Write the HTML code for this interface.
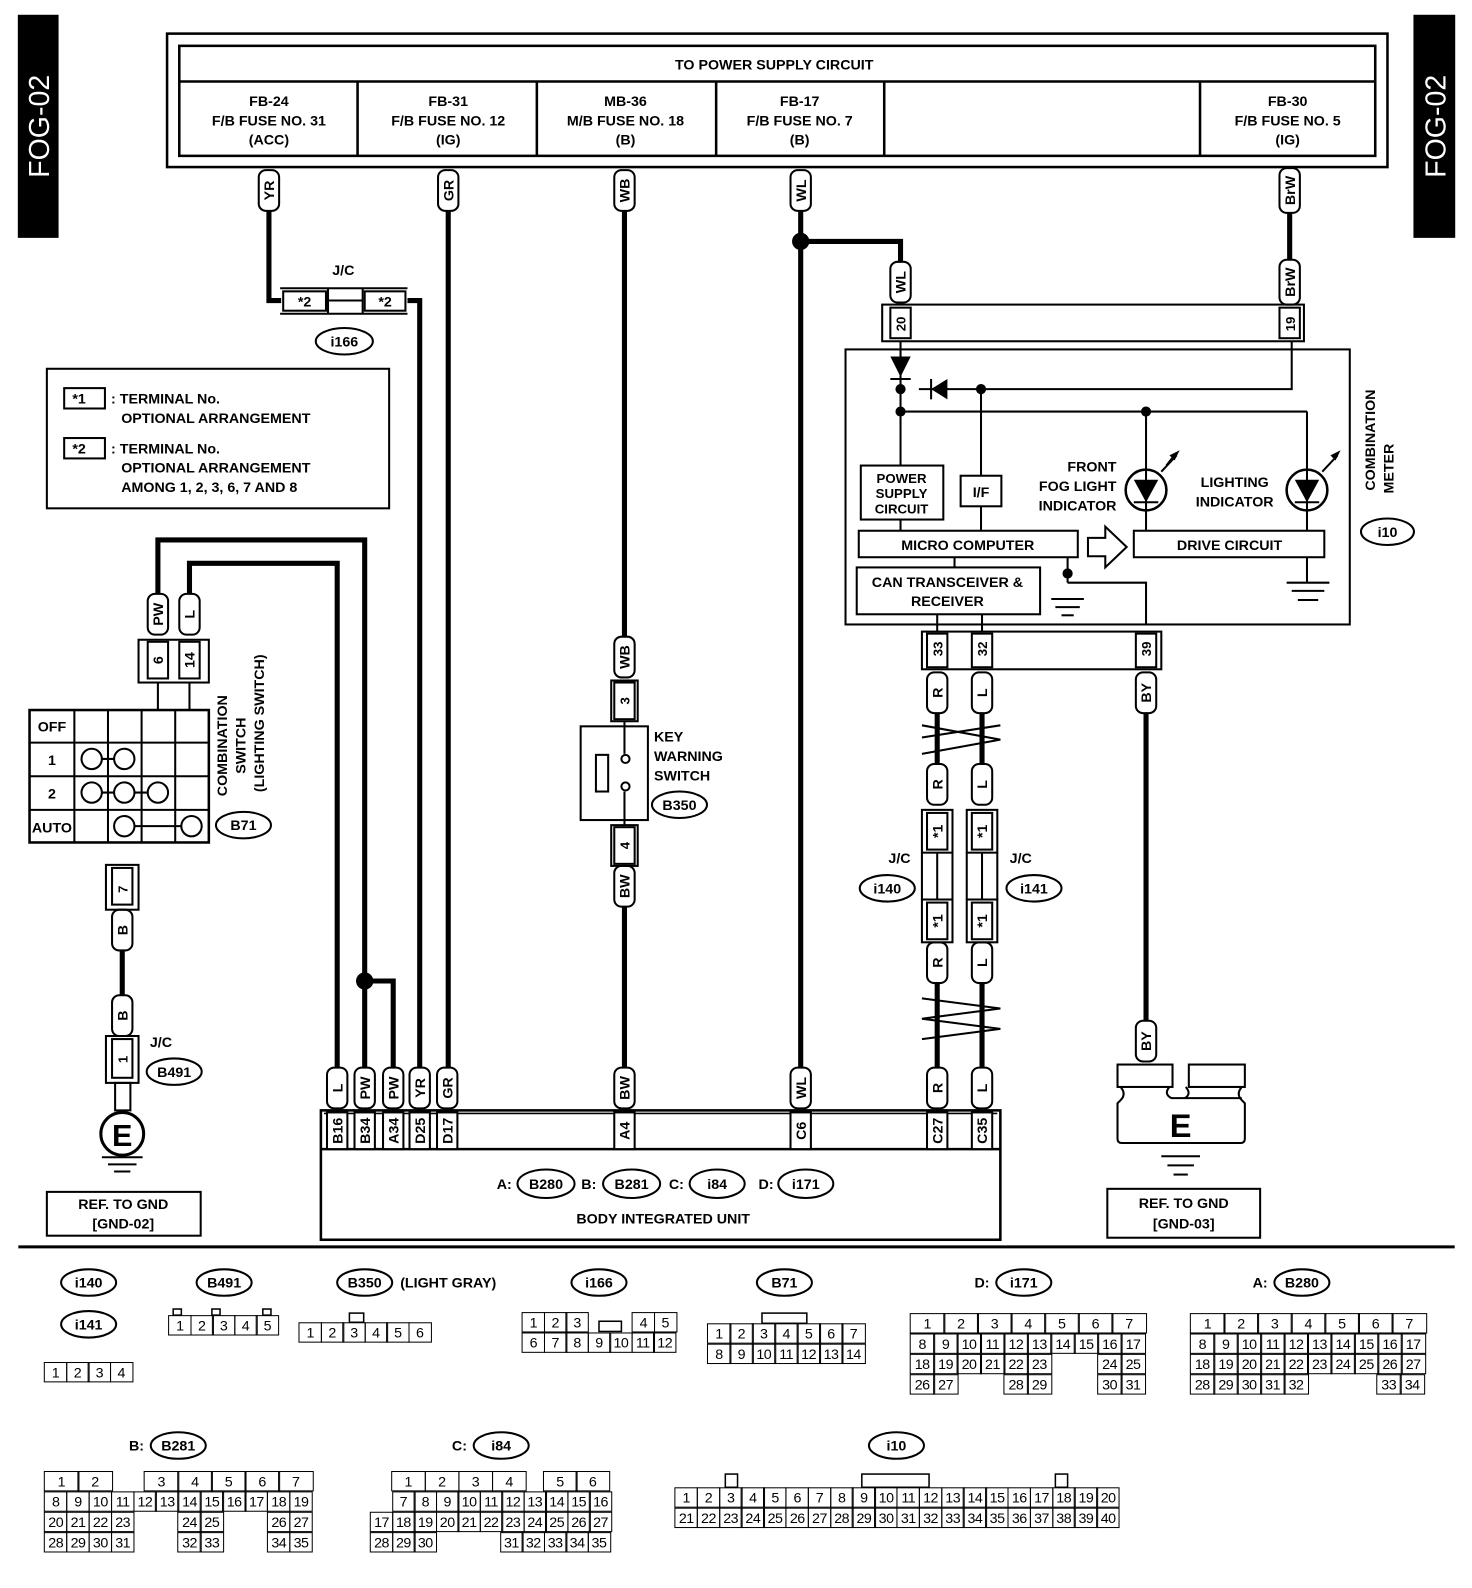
<!DOCTYPE html>
<html><head><meta charset="utf-8">
<style>
html,body{margin:0;padding:0;background:#fff;}
#wrap{position:relative;width:1445px;height:1559px;transform:scale(1.0187);transform-origin:0 0;overflow:hidden;font-family:"Liberation Sans",sans-serif;}
svg{position:absolute;left:0;top:0}
svg text{font-family:"Liberation Sans",sans-serif;font-weight:bold;font-size:14px;fill:#000}
.r{position:absolute;display:flex;height:20px}
.r b,.r i{display:block;height:20px;box-sizing:border-box;font-weight:normal;font-style:normal;font-size:14px;line-height:19px;text-align:center;letter-spacing:-0.5px}
.r b{border:1.5px solid #000;margin-right:-1.5px}
.r i{margin-right:-1.5px}
</style></head><body><div id="wrap">
<svg width="1445" height="1559" viewBox="0 0 1445 1559" fill="none" stroke="#000">
<!-- side tabs -->
<rect x="18" y="15" width="39" height="218" fill="#000"/>
<text transform="translate(48,124) rotate(-90)" text-anchor="middle" style="fill:#fff;font-size:28px;font-weight:normal" stroke="none">FOG-02</text>
<rect x="1388" y="15" width="40" height="218" fill="#000"/>
<text transform="translate(1419,124) rotate(-90)" text-anchor="middle" style="fill:#fff;font-size:28px;font-weight:normal" stroke="none">FOG-02</text>

<!-- top box -->
<g stroke-width="2.5">
<rect x="164" y="33" width="1198" height="131"/>
<rect x="176" y="45" width="1174" height="108"/>
<line x1="176" y1="80" x2="1350" y2="80"/>
<line x1="351" y1="80" x2="351" y2="153"/><line x1="527" y1="80" x2="527" y2="153"/>
<line x1="703" y1="80" x2="703" y2="153"/><line x1="868" y1="80" x2="868" y2="153"/>
<line x1="1178" y1="80" x2="1178" y2="153"/>
</g>
<g stroke="none" text-anchor="middle">
<text x="760" y="68">TO POWER SUPPLY CIRCUIT</text>
<text x="264" y="104">FB-24</text><text x="264" y="123">F/B FUSE NO. 31</text><text x="264" y="142">(ACC)</text>
<text x="440" y="104">FB-31</text><text x="440" y="123">F/B FUSE NO. 12</text><text x="440" y="142">(IG)</text>
<text x="614" y="104">MB-36</text><text x="614" y="123">M/B FUSE NO. 18</text><text x="614" y="142">(B)</text>
<text x="785" y="104">FB-17</text><text x="785" y="123">F/B FUSE NO. 7</text><text x="785" y="142">(B)</text>
<text x="1264" y="104">FB-30</text><text x="1264" y="123">F/B FUSE NO. 5</text><text x="1264" y="142">(IG)</text>
</g>

<!-- thick wires -->
<g stroke-width="5" stroke-linejoin="miter">
<polyline points="264,207 264,295 276,295"/>
<polyline points="400,295 412,295 412,1048"/>
<line x1="440" y1="207" x2="440" y2="1048"/>
<line x1="613" y1="207" x2="613" y2="625"/>
<line x1="613" y1="890" x2="613" y2="1048"/>
<line x1="786" y1="207" x2="786" y2="1048"/>
<polyline points="786,237 884,237 884,257"/>
<line x1="1266" y1="209" x2="1266" y2="257"/>
<polyline points="331,1048 331,553 186,553 186,583"/>
<polyline points="358,1048 358,530 155,530 155,583"/>
<polyline points="358,963 386,963 386,1048"/>
<line x1="120" y1="893" x2="120" y2="977"/>
<line x1="920" y1="700" x2="920" y2="750"/><line x1="964" y1="700" x2="964" y2="750"/>
<line x1="920" y1="965" x2="920" y2="1048"/><line x1="964" y1="965" x2="964" y2="1048"/>
<line x1="1125" y1="700" x2="1125" y2="1002"/>
</g>
<circle cx="786" cy="237" r="8" fill="#000"/>
<circle cx="358" cy="963" r="8" fill="#000"/>

<!-- pill labels -->
<g stroke-width="2" fill="#fff">
<rect x="254" y="167" width="20" height="40" rx="7"/><rect x="430" y="167" width="20" height="40" rx="7"/>
<rect x="603" y="167" width="20" height="40" rx="7"/><rect x="776" y="167" width="20" height="40" rx="7"/>
<rect x="1256" y="165" width="20" height="44" rx="7"/>
<rect x="874" y="257" width="20" height="40" rx="7"/><rect x="1256" y="255" width="20" height="44" rx="7"/>
<rect x="145" y="583" width="20" height="40" rx="7"/><rect x="176" y="583" width="20" height="40" rx="7"/>
<rect x="603" y="625" width="20" height="40" rx="7"/><rect x="603" y="850" width="20" height="40" rx="7"/>
<rect x="110" y="893" width="20" height="40" rx="7"/><rect x="110" y="977" width="20" height="40" rx="7"/>
<rect x="910" y="660" width="20" height="40" rx="7"/><rect x="954" y="660" width="20" height="40" rx="7"/>
<rect x="1115" y="660" width="20" height="40" rx="7"/>
<rect x="910" y="750" width="20" height="40" rx="7"/><rect x="954" y="750" width="20" height="40" rx="7"/>
<rect x="910" y="925" width="20" height="40" rx="7"/><rect x="954" y="925" width="20" height="40" rx="7"/>
<rect x="1115" y="1002" width="20" height="40" rx="7"/>
<rect x="321" y="1048" width="20" height="40" rx="7"/><rect x="348" y="1048" width="20" height="40" rx="7"/>
<rect x="376" y="1048" width="20" height="40" rx="7"/><rect x="402" y="1048" width="20" height="40" rx="7"/>
<rect x="429" y="1048" width="20" height="40" rx="7"/><rect x="603" y="1048" width="20" height="40" rx="7"/>
<rect x="776" y="1048" width="20" height="40" rx="7"/><rect x="910" y="1048" width="20" height="40" rx="7"/>
<rect x="954" y="1048" width="20" height="40" rx="7"/>
</g>
<g stroke="none" text-anchor="middle" style="font-size:13px">
<text transform="translate(269,187) rotate(-90)">YR</text><text transform="translate(445,187) rotate(-90)">GR</text>
<text transform="translate(618,187) rotate(-90)">WB</text><text transform="translate(791,187) rotate(-90)">WL</text>
<text transform="translate(1271,187) rotate(-90)">BrW</text>
<text transform="translate(889,277) rotate(-90)">WL</text><text transform="translate(1271,277) rotate(-90)">BrW</text>
<text transform="translate(160,603) rotate(-90)">PW</text><text transform="translate(191,603) rotate(-90)">L</text>
<text transform="translate(618,645) rotate(-90)">WB</text><text transform="translate(618,870) rotate(-90)">BW</text>
<text transform="translate(125,913) rotate(-90)">B</text><text transform="translate(125,997) rotate(-90)">B</text>
<text transform="translate(925,680) rotate(-90)">R</text><text transform="translate(969,680) rotate(-90)">L</text>
<text transform="translate(1130,680) rotate(-90)">BY</text>
<text transform="translate(925,770) rotate(-90)">R</text><text transform="translate(969,770) rotate(-90)">L</text>
<text transform="translate(925,945) rotate(-90)">R</text><text transform="translate(969,945) rotate(-90)">L</text>
<text transform="translate(1130,1022) rotate(-90)">BY</text>
<text transform="translate(336,1068) rotate(-90)">L</text><text transform="translate(363,1068) rotate(-90)">PW</text>
<text transform="translate(391,1068) rotate(-90)">PW</text><text transform="translate(417,1068) rotate(-90)">YR</text>
<text transform="translate(444,1068) rotate(-90)">GR</text><text transform="translate(618,1068) rotate(-90)">BW</text>
<text transform="translate(791,1068) rotate(-90)">WL</text><text transform="translate(925,1068) rotate(-90)">R</text>
<text transform="translate(969,1068) rotate(-90)">L</text>
</g>

<!-- J/C i166 -->
<g stroke-width="2">
<line x1="275" y1="283" x2="400" y2="283"/><line x1="275" y1="308" x2="400" y2="308"/>
<rect x="278" y="286" width="42" height="19"/><rect x="358" y="286" width="40" height="19"/>
<line x1="322" y1="295" x2="356" y2="295"/>
<line x1="322" y1="283" x2="322" y2="308"/><line x1="356" y1="283" x2="356" y2="308"/>
<ellipse cx="338" cy="335" rx="28" ry="13"/>
</g>
<g stroke="none" text-anchor="middle"><text x="299" y="301">*2</text><text x="378" y="301">*2</text>
<text x="337" y="270">J/C</text><text x="338" y="340">i166</text></g>

<!-- legend -->
<rect x="46" y="362" width="336" height="137" stroke-width="2"/>
<rect x="63" y="381" width="40" height="20" stroke-width="2"/><rect x="63" y="430" width="40" height="20" stroke-width="2"/>
<g stroke="none"><text x="71" y="396">*1</text><text x="71" y="445">*2</text>
<text x="109" y="396">: TERMINAL No.</text><text x="119" y="415">OPTIONAL ARRANGEMENT</text>
<text x="109" y="445">: TERMINAL No.</text><text x="119" y="464">OPTIONAL ARRANGEMENT</text>
<text x="119" y="483">AMONG 1, 2, 3, 6, 7 AND 8</text></g>

<!-- combination switch -->
<g stroke-width="2">
<rect x="136" y="628" width="69" height="42"/><rect x="145" y="630" width="20" height="36"/><rect x="176" y="630" width="20" height="36"/>
<line x1="155" y1="670" x2="155" y2="697"/><line x1="186" y1="670" x2="186" y2="697"/>
<rect x="29" y="697" width="176" height="130" stroke-width="2.5"/>
<line x1="73" y1="697" x2="73" y2="827"/><line x1="106" y1="697" x2="106" y2="827"/><line x1="139" y1="697" x2="139" y2="827"/><line x1="172" y1="697" x2="172" y2="827"/>
<line x1="29" y1="729" x2="205" y2="729"/><line x1="29" y1="762" x2="205" y2="762"/><line x1="29" y1="795" x2="205" y2="795"/>
<line x1="90" y1="745" x2="122" y2="745"/><line x1="90" y1="778" x2="155" y2="778"/><line x1="122" y1="811" x2="188" y2="811"/>
</g>
<g stroke-width="2" fill="#fff">
<circle cx="90" cy="745" r="10"/><circle cx="122" cy="745" r="10"/>
<circle cx="90" cy="778" r="10"/><circle cx="122" cy="778" r="10"/><circle cx="155" cy="778" r="10"/>
<circle cx="122" cy="811" r="10"/><circle cx="188" cy="811" r="10"/>
<ellipse cx="239" cy="810" rx="27" ry="13"/>
</g>
<g stroke="none" text-anchor="middle" style="font-size:13px">
<text transform="translate(160,648) rotate(-90)">6</text><text transform="translate(191,648) rotate(-90)">14</text>
<text x="51" y="718">OFF</text><text x="51" y="751">1</text><text x="51" y="784">2</text><text x="51" y="817">AUTO</text>
<text x="239" y="815">B71</text></g>
<g stroke="none" text-anchor="middle">
<text transform="translate(223,732) rotate(-90)">COMBINATION</text>
<text transform="translate(241,732) rotate(-90)">SWITCH</text>
<text transform="translate(259,710) rotate(-90)">(LIGHTING SWITCH)</text></g>

<!-- left ground -->
<g stroke-width="2">
<rect x="104" y="849" width="32" height="44"/><rect x="110" y="852" width="20" height="36"/>
<rect x="104" y="1017" width="32" height="46"/><rect x="110" y="1020" width="20" height="38"/>
<rect x="113" y="1063" width="15" height="27"/>
<circle cx="120" cy="1113" r="21" stroke-width="3"/>
<line x1="100" y1="1136" x2="140" y2="1136"/><line x1="106" y1="1143" x2="134" y2="1143"/><line x1="112" y1="1150" x2="128" y2="1150"/>
<rect x="46" y="1170" width="151" height="43"/>
<ellipse cx="171" cy="1052" rx="27" ry="13"/>
</g>
<g stroke="none" text-anchor="middle">
<text transform="translate(125,873) rotate(-90)" style="font-size:13px">7</text>
<text transform="translate(125,1040) rotate(-90)" style="font-size:13px">1</text>
<text x="120" y="1125" style="font-size:30px">E</text>
<text x="158" y="1028">J/C</text><text x="171" y="1057">B491</text>
<text x="121" y="1187">REF. TO GND</text><text x="121" y="1206">[GND-02]</text></g>

<!-- key warning switch -->
<g stroke-width="2">
<rect x="600" y="668" width="26" height="40"/><rect x="603" y="670" width="20" height="36"/>
<rect x="600" y="810" width="26" height="40"/><rect x="603" y="812" width="20" height="36"/>
<rect x="570" y="713" width="66" height="92"/>
<line x1="613" y1="708" x2="613" y2="740"/><line x1="613" y1="777" x2="613" y2="810"/>
<rect x="585" y="741" width="12" height="36"/>
<circle cx="614" cy="745" r="4" fill="#fff"/><circle cx="614" cy="772" r="4" fill="#fff"/>
<ellipse cx="667" cy="790" rx="27" ry="13"/>
</g>
<g stroke="none"><text transform="translate(618,688) rotate(-90)" text-anchor="middle" style="font-size:13px">3</text>
<text transform="translate(618,830) rotate(-90)" text-anchor="middle" style="font-size:13px">4</text>
<text x="642" y="728">KEY</text><text x="642" y="747">WARNING</text><text x="642" y="766">SWITCH</text>
<text x="667" y="795" text-anchor="middle">B350</text></g>

<!-- combination meter -->
<g stroke-width="2">
<rect x="866" y="299" width="414" height="36"/><rect x="874" y="302" width="20" height="30"/><rect x="1256" y="302" width="20" height="30"/>
<rect x="830" y="343" width="495" height="270"/>
<line x1="884" y1="335" x2="884" y2="457"/>
<polyline points="1268,335 1268,382 902,382"/>
<line x1="884" y1="404" x2="1283" y2="404"/>
<line x1="1283" y1="404" x2="1283" y2="521"/>
<line x1="1125" y1="404" x2="1125" y2="521"/>
<line x1="963" y1="382" x2="963" y2="467"/><line x1="963" y1="497" x2="963" y2="521"/>
<line x1="884" y1="510" x2="884" y2="521"/>
<line x1="937" y1="547" x2="937" y2="557"/>
<polyline points="1048,547 1048,572"/>
<polyline points="1048,572 1125,572 1125,613"/>
<line x1="1032" y1="588" x2="1064" y2="588"/><line x1="1036" y1="596" x2="1060" y2="596"/><line x1="1042" y1="604" x2="1054" y2="604"/>
<line x1="1283" y1="547" x2="1283" y2="572"/>
<line x1="1263" y1="572" x2="1305" y2="572"/><line x1="1268" y1="580" x2="1300" y2="580"/><line x1="1274" y1="589" x2="1294" y2="589"/>
<line x1="920" y1="603" x2="920" y2="620"/><line x1="964" y1="603" x2="964" y2="620"/>
<rect x="845" y="457" width="81" height="53"/><rect x="943" y="467" width="40" height="30"/>
<rect x="843" y="521" width="215" height="26"/><rect x="841" y="557" width="180" height="46"/>
<rect x="1113" y="521" width="187" height="26"/>
<polygon points="1068,528 1085,528 1085,517 1106,537 1085,557 1085,546 1068,546" fill="#fff"/>
<circle cx="1125" cy="481" r="20" stroke-width="2.5"/><circle cx="1283" cy="481" r="20" stroke-width="2.5"/>
<line x1="1113" y1="493" x2="1137" y2="493"/><line x1="1271" y1="493" x2="1295" y2="493"/>
<line x1="874" y1="372" x2="894" y2="372"/><line x1="914" y1="372" x2="914" y2="392"/>
<polyline points="1140,463 1155,447"/><polyline points="1298,463 1313,447"/>
<line x1="1145" y1="457" x2="1152" y2="448"/>
<rect x="905" y="620" width="235" height="37"/>
<rect x="910" y="622" width="20" height="33"/><rect x="954" y="622" width="20" height="33"/><rect x="1115" y="622" width="20" height="33"/>
<ellipse cx="1362" cy="522" rx="26" ry="13"/>
</g>
<g fill="#000" stroke="none">
<polygon points="874,350 894,350 884,370"/>
<polygon points="914,382 930,372 930,392"/>
<polygon points="1113,471 1137,471 1125,493"/><polygon points="1271,471 1295,471 1283,493"/>
<polygon points="1158,442 1148,447 1153,452"/><polygon points="1316,442 1306,447 1311,452"/>
<circle cx="884" cy="382" r="5"/><circle cx="884" cy="404" r="5"/><circle cx="963" cy="382" r="5"/>
<circle cx="1125" cy="404" r="5"/><circle cx="1048" cy="563" r="5"/>
</g>
<g stroke="none" text-anchor="middle">
<text transform="translate(889,318) rotate(-90)" style="font-size:13px">20</text>
<text transform="translate(1271,318) rotate(-90)" style="font-size:13px">19</text>
<text x="885" y="474" style="font-size:13px">POWER</text><text x="885" y="489" style="font-size:13px">SUPPLY</text><text x="885" y="504" style="font-size:13px">CIRCUIT</text>
<text x="963" y="488">I/F</text>
<text x="950" y="540">MICRO COMPUTER</text>
<text x="930" y="576">CAN TRANSCEIVER &amp;</text><text x="930" y="595">RECEIVER</text>
<text x="1207" y="540">DRIVE CIRCUIT</text>
<text x="1212" y="478">LIGHTING</text><text x="1212" y="497">INDICATOR</text>
<text transform="translate(920,637) rotate(-90)" x="0" y="5" style="font-size:13px">33</text>
<text transform="translate(964,637) rotate(-90)" x="0" y="5" style="font-size:13px">32</text>
<text transform="translate(1125,637) rotate(-90)" x="0" y="5" style="font-size:13px">39</text>
<text transform="translate(1350,432) rotate(-90)">COMBINATION</text>
<text transform="translate(1368,460) rotate(-90)">METER</text>
<text x="1362" y="527">i10</text>
</g>
<g stroke="none" text-anchor="end"><text x="1096" y="463">FRONT</text><text x="1096" y="482">FOG LIGHT</text><text x="1096" y="501">INDICATOR</text></g>

<!-- twisted lines -->
<g stroke-width="2">
<polyline points="905,712 982,726 905,740"/><polyline points="905,724 982,712"/>
<polyline points="905,980 982,990 905,1000 982,1010 905,1020"/>
</g>

<!-- J/C i140 i141 -->
<g stroke-width="2" fill="#fff">
<rect x="905" y="795" width="30" height="42"/><rect x="910" y="798" width="20" height="36"/>
<rect x="905" y="883" width="30" height="42"/><rect x="910" y="886" width="20" height="36"/>
<rect x="949" y="795" width="30" height="42"/><rect x="954" y="798" width="20" height="36"/>
<rect x="949" y="883" width="30" height="42"/><rect x="954" y="886" width="20" height="36"/>
<line x1="920" y1="837" x2="920" y2="883"/><line x1="964" y1="837" x2="964" y2="883"/>
<line x1="905" y1="837" x2="905" y2="883"/><line x1="935" y1="837" x2="935" y2="883"/>
<line x1="949" y1="837" x2="949" y2="883"/><line x1="979" y1="837" x2="979" y2="883"/>
<ellipse cx="871" cy="872" rx="27" ry="13"/><ellipse cx="1015" cy="872" rx="27" ry="13"/>
</g>
<g stroke="none" text-anchor="middle">
<text transform="translate(925,816) rotate(-90)">*1</text><text transform="translate(969,816) rotate(-90)">*1</text>
<text transform="translate(925,904) rotate(-90)">*1</text><text transform="translate(969,904) rotate(-90)">*1</text>
<text x="883" y="847">J/C</text><text x="871" y="877">i140</text>
<text x="1002" y="847">J/C</text><text x="1015" y="877">i141</text></g>

<!-- right ground -->
<g stroke-width="2">
<rect x="1097" y="1045" width="54" height="22"/><rect x="1167" y="1045" width="55" height="22"/>
<path d="M1100,1067 Q1106,1074 1100,1080 L1097,1083 L1097,1118 Q1097,1122 1101,1122 L1218,1122 Q1222,1122 1222,1118 L1222,1083 L1219,1080 Q1213,1074 1219,1067 M1148,1067 Q1142,1074 1150,1078 L1163,1078 Q1170,1074 1164,1067 M1163,1078 L1219,1078"/>
<line x1="1140" y1="1135" x2="1178" y2="1135"/><line x1="1146" y1="1144" x2="1172" y2="1144"/><line x1="1152" y1="1153" x2="1166" y2="1153"/>
<rect x="1087" y="1167" width="150" height="48"/>
</g>
<g stroke="none" text-anchor="middle"><text x="1159" y="1116" style="font-size:32px">E</text>
<text x="1162" y="1186">REF. TO GND</text><text x="1162" y="1206">[GND-03]</text></g>

<!-- body integrated unit -->
<g stroke-width="2.5">
<rect x="315" y="1090" width="667" height="127"/>
<line x1="315" y1="1128" x2="982" y2="1128"/>
<line x1="318" y1="1093" x2="979" y2="1093" stroke-width="1.5"/>
</g>
<g stroke-width="2" fill="#fff">
<rect x="321" y="1092" width="20" height="36"/><rect x="348" y="1092" width="20" height="36"/><rect x="376" y="1092" width="20" height="36"/>
<rect x="402" y="1092" width="20" height="36"/><rect x="429" y="1092" width="20" height="36"/><rect x="603" y="1092" width="20" height="36"/>
<rect x="776" y="1092" width="20" height="36"/><rect x="910" y="1092" width="20" height="36"/><rect x="954" y="1092" width="20" height="36"/>
<ellipse cx="536" cy="1162" rx="28" ry="14"/><ellipse cx="620" cy="1162" rx="28" ry="14"/>
<ellipse cx="704" cy="1162" rx="27" ry="14"/><ellipse cx="791" cy="1162" rx="27" ry="14"/>
</g>
<g stroke="none" text-anchor="middle" style="font-size:12px">
<text transform="translate(336,1110) rotate(-90)">B16</text><text transform="translate(363,1110) rotate(-90)">B34</text>
<text transform="translate(391,1110) rotate(-90)">A34</text><text transform="translate(417,1110) rotate(-90)">D25</text>
<text transform="translate(444,1110) rotate(-90)">D17</text><text transform="translate(618,1110) rotate(-90)">A4</text>
<text transform="translate(791,1110) rotate(-90)">C6</text><text transform="translate(925,1110) rotate(-90)">C27</text>
<text transform="translate(969,1110) rotate(-90)">C35</text></g>
<g stroke="none" text-anchor="middle">
<text x="495" y="1167">A:</text><text x="536" y="1167">B280</text><text x="578" y="1167">B:</text><text x="620" y="1167">B281</text>
<text x="664" y="1167">C:</text><text x="704" y="1167">i84</text><text x="752" y="1167">D:</text><text x="791" y="1167">i171</text>
<text x="651" y="1201">BODY INTEGRATED UNIT</text></g>

<line x1="18" y1="1224" x2="1428" y2="1224" stroke-width="3"/>

<!-- bottom ovals -->
<g stroke-width="2">
<ellipse cx="87" cy="1259" rx="27" ry="13"/><ellipse cx="87" cy="1300" rx="27" ry="13"/>
<ellipse cx="220" cy="1259" rx="27" ry="13"/><ellipse cx="358" cy="1259" rx="27" ry="13"/>
<ellipse cx="588" cy="1259" rx="27" ry="13"/><ellipse cx="770" cy="1259" rx="27" ry="13"/>
<ellipse cx="1005" cy="1259" rx="27" ry="13"/><ellipse cx="1278" cy="1259" rx="27" ry="13"/>
<ellipse cx="175" cy="1419" rx="27" ry="13"/><ellipse cx="492" cy="1419" rx="27" ry="13"/>
<ellipse cx="880" cy="1419" rx="27" ry="13"/>
<rect x="588" y="1297" width="22" height="10" stroke-width="1.5"/>
<rect x="748" y="1289" width="44" height="10" stroke-width="1.5"/>
<rect x="343" y="1289" width="14" height="9" stroke-width="1.5"/>
<rect x="170" y="1285" width="8" height="6" stroke-width="1.5"/><rect x="208" y="1285" width="8" height="6" stroke-width="1.5"/><rect x="258" y="1285" width="8" height="6" stroke-width="1.5"/>
<rect x="712" y="1447" width="12" height="13" stroke-width="1.5"/><rect x="846" y="1447" width="66" height="13" stroke-width="1.5"/><rect x="1036" y="1447" width="12" height="13" stroke-width="1.5"/>
</g>
<g stroke="none" text-anchor="middle">
<text x="87" y="1264">i140</text><text x="87" y="1305">i141</text><text x="220" y="1264">B491</text>
<text x="358" y="1264">B350</text><text x="440" y="1264">(LIGHT GRAY)</text>
<text x="588" y="1264">i166</text><text x="770" y="1264">B71</text>
<text x="964" y="1264">D:</text><text x="1005" y="1264">i171</text>
<text x="1237" y="1264">A:</text><text x="1278" y="1264">B280</text>
<text x="134" y="1424">B:</text><text x="175" y="1424">B281</text>
<text x="451" y="1424">C:</text><text x="492" y="1424">i84</text>
<text x="880" y="1424">i10</text>
<text x="1390" y="1570" style="font-weight:normal;font-size:15px" text-anchor="end">WI-29375</text>
</g>
</svg>

<!-- connector grids -->
<div class="r" style="left:43px;top:1337px"><b style="width:23px">1</b><b style="width:23px">2</b><b style="width:23px">3</b><b style="width:23px">4</b></div>
<div class="r" style="left:165px;top:1291px"><b style="width:23px">1</b><b style="width:23px">2</b><b style="width:23px">3</b><b style="width:23px">4</b><b style="width:23px">5</b></div>
<div class="r" style="left:293px;top:1298px"><b style="width:23px">1</b><b style="width:23px">2</b><b style="width:23px">3</b><b style="width:23px">4</b><b style="width:23px">5</b><b style="width:23px">6</b></div>

<div class="r" style="left:512px;top:1288px"><b style="width:23px">1</b><b style="width:23px">2</b><b style="width:23px">3</b><i style="width:45px"></i><b style="width:23px">4</b><b style="width:23px">5</b></div>
<div class="r" style="left:512px;top:1308px"><b style="width:23px">6</b><b style="width:23px">7</b><b style="width:23px">8</b><b style="width:23px">9</b><b style="width:23px">10</b><b style="width:23px">11</b><b style="width:23px">12</b></div>

<div class="r" style="left:694px;top:1299px"><b style="width:23.5px">1</b><b style="width:23.5px">2</b><b style="width:23.5px">3</b><b style="width:23.5px">4</b><b style="width:23.5px">5</b><b style="width:23.5px">6</b><b style="width:23.5px">7</b></div>
<div class="r" style="left:694px;top:1319px"><b style="width:23.5px">8</b><b style="width:23.5px">9</b><b style="width:23.5px">10</b><b style="width:23.5px">11</b><b style="width:23.5px">12</b><b style="width:23.5px">13</b><b style="width:23.5px">14</b></div>

<div class="r" style="left:893px;top:1289px"><b style="width:34.5px">1</b><b style="width:34.5px">2</b><b style="width:34.5px">3</b><b style="width:34.5px">4</b><b style="width:34.5px">5</b><b style="width:34.5px">6</b><b style="width:34.5px">7</b></div>
<div class="r" style="left:893px;top:1309px"><b style="width:24.5px">8</b><b style="width:24.5px">9</b><b style="width:24.5px">10</b><b style="width:24.5px">11</b><b style="width:24.5px">12</b><b style="width:24.5px">13</b><b style="width:24.5px">14</b><b style="width:24.5px">15</b><b style="width:24.5px">16</b><b style="width:24.5px">17</b></div>
<div class="r" style="left:893px;top:1329px"><b style="width:24.5px">18</b><b style="width:24.5px">19</b><b style="width:24.5px">20</b><b style="width:24.5px">21</b><b style="width:24.5px">22</b><b style="width:24.5px">23</b><i style="width:47.5px"></i><b style="width:24.5px">24</b><b style="width:24.5px">25</b></div>
<div class="r" style="left:893px;top:1349px"><b style="width:24.5px">26</b><b style="width:24.5px">27</b><i style="width:47.5px"></i><b style="width:24.5px">28</b><b style="width:24.5px">29</b><i style="width:47.5px"></i><b style="width:24.5px">30</b><b style="width:24.5px">31</b></div>

<div class="r" style="left:1168px;top:1289px"><b style="width:34.5px">1</b><b style="width:34.5px">2</b><b style="width:34.5px">3</b><b style="width:34.5px">4</b><b style="width:34.5px">5</b><b style="width:34.5px">6</b><b style="width:34.5px">7</b></div>
<div class="r" style="left:1168px;top:1309px"><b style="width:24.5px">8</b><b style="width:24.5px">9</b><b style="width:24.5px">10</b><b style="width:24.5px">11</b><b style="width:24.5px">12</b><b style="width:24.5px">13</b><b style="width:24.5px">14</b><b style="width:24.5px">15</b><b style="width:24.5px">16</b><b style="width:24.5px">17</b></div>
<div class="r" style="left:1168px;top:1329px"><b style="width:24.5px">18</b><b style="width:24.5px">19</b><b style="width:24.5px">20</b><b style="width:24.5px">21</b><b style="width:24.5px">22</b><b style="width:24.5px">23</b><b style="width:24.5px">24</b><b style="width:24.5px">25</b><b style="width:24.5px">26</b><b style="width:24.5px">27</b></div>
<div class="r" style="left:1168px;top:1349px"><b style="width:24.5px">28</b><b style="width:24.5px">29</b><b style="width:24.5px">30</b><b style="width:24.5px">31</b><b style="width:24.5px">32</b><i style="width:69.5px"></i><b style="width:24.5px">33</b><b style="width:24.5px">34</b></div>

<div class="r" style="left:43px;top:1444px"><b style="width:34.5px">1</b><b style="width:34.5px">2</b><i style="width:33.5px"></i><b style="width:34.5px">3</b><b style="width:34.5px">4</b><b style="width:34.5px">5</b><b style="width:34.5px">6</b><b style="width:34.5px">7</b></div>
<div class="r" style="left:43px;top:1464px"><b style="width:23.4px">8</b><b style="width:23.4px">9</b><b style="width:23.4px">10</b><b style="width:23.4px">11</b><b style="width:23.4px">12</b><b style="width:23.4px">13</b><b style="width:23.4px">14</b><b style="width:23.4px">15</b><b style="width:23.4px">16</b><b style="width:23.4px">17</b><b style="width:23.4px">18</b><b style="width:23.4px">19</b></div>
<div class="r" style="left:43px;top:1484px"><b style="width:23.4px">20</b><b style="width:23.4px">21</b><b style="width:23.4px">22</b><b style="width:23.4px">23</b><i style="width:45.3px"></i><b style="width:23.4px">24</b><b style="width:23.4px">25</b><i style="width:45.3px"></i><b style="width:23.4px">26</b><b style="width:23.4px">27</b></div>
<div class="r" style="left:43px;top:1504px"><b style="width:23.4px">28</b><b style="width:23.4px">29</b><b style="width:23.4px">30</b><b style="width:23.4px">31</b><i style="width:45.3px"></i><b style="width:23.4px">32</b><b style="width:23.4px">33</b><i style="width:45.3px"></i><b style="width:23.4px">34</b><b style="width:23.4px">35</b></div>

<div class="r" style="left:363px;top:1444px"><i style="width:22px"></i><b style="width:34.5px">1</b><b style="width:34.5px">2</b><b style="width:34.5px">3</b><b style="width:34.5px">4</b><i style="width:19px"></i><b style="width:33.5px">5</b><b style="width:33.5px">6</b></div>
<div class="r" style="left:363px;top:1464px"><i style="width:23px"></i><b style="width:23px">7</b><b style="width:23px">8</b><b style="width:23px">9</b><b style="width:23px">10</b><b style="width:23px">11</b><b style="width:23px">12</b><b style="width:23px">13</b><b style="width:23px">14</b><b style="width:23px">15</b><b style="width:23px">16</b></div>
<div class="r" style="left:363px;top:1484px"><b style="width:23px">17</b><b style="width:23px">18</b><b style="width:23px">19</b><b style="width:23px">20</b><b style="width:23px">21</b><b style="width:23px">22</b><b style="width:23px">23</b><b style="width:23px">24</b><b style="width:23px">25</b><b style="width:23px">26</b><b style="width:23px">27</b></div>
<div class="r" style="left:363px;top:1504px"><b style="width:23px">28</b><b style="width:23px">29</b><b style="width:23px">30</b><i style="width:64.5px"></i><b style="width:23px">31</b><b style="width:23px">32</b><b style="width:23px">33</b><b style="width:23px">34</b><b style="width:23px">35</b></div>

<div class="r" style="left:662px;top:1460px"><b style="width:23.3px">1</b><b style="width:23.3px">2</b><b style="width:23.3px">3</b><b style="width:23.3px">4</b><b style="width:23.3px">5</b><b style="width:23.3px">6</b><b style="width:23.3px">7</b><b style="width:23.3px">8</b><b style="width:23.3px">9</b><b style="width:23.3px">10</b><b style="width:23.3px">11</b><b style="width:23.3px">12</b><b style="width:23.3px">13</b><b style="width:23.3px">14</b><b style="width:23.3px">15</b><b style="width:23.3px">16</b><b style="width:23.3px">17</b><b style="width:23.3px">18</b><b style="width:23.3px">19</b><b style="width:23.3px">20</b></div>
<div class="r" style="left:662px;top:1480px"><b style="width:23.3px">21</b><b style="width:23.3px">22</b><b style="width:23.3px">23</b><b style="width:23.3px">24</b><b style="width:23.3px">25</b><b style="width:23.3px">26</b><b style="width:23.3px">27</b><b style="width:23.3px">28</b><b style="width:23.3px">29</b><b style="width:23.3px">30</b><b style="width:23.3px">31</b><b style="width:23.3px">32</b><b style="width:23.3px">33</b><b style="width:23.3px">34</b><b style="width:23.3px">35</b><b style="width:23.3px">36</b><b style="width:23.3px">37</b><b style="width:23.3px">38</b><b style="width:23.3px">39</b><b style="width:23.3px">40</b></div>
</div></body></html>
